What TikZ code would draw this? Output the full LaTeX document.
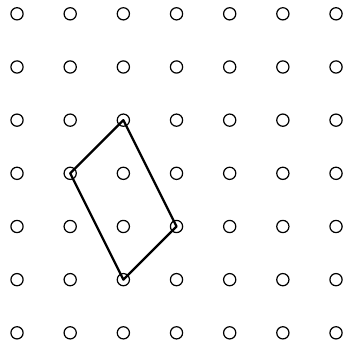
\documentclass[tikz,border=0pt]{standalone}
\usepackage{tikz}
\usetikzlibrary{positioning}

\begin{document}
\begin{tikzpicture}
            \useasboundingbox (-0.32,-0.19) rectangle (6.15,6.26);
            \begin{scope}[every node/.style={circle,draw,line width=0.65pt,inner sep=0pt,minimum size=0.23cm}]
                \foreach \i in {0,...,6}
                    \foreach \j in {0,...,6}
                        \node (p-\i-\j) at (\i,\j) {};
            \end{scope}
            
            \begin{scope}[every path/.style={draw=black,line width=1.2pt,line join=round}]
                \path [-] (p-2-4.center) -- (p-1-3.center) -- (p-2-1.center) -- (p-3-2.center) -- cycle;
            \end{scope}
        \end{tikzpicture}
\end{document}
